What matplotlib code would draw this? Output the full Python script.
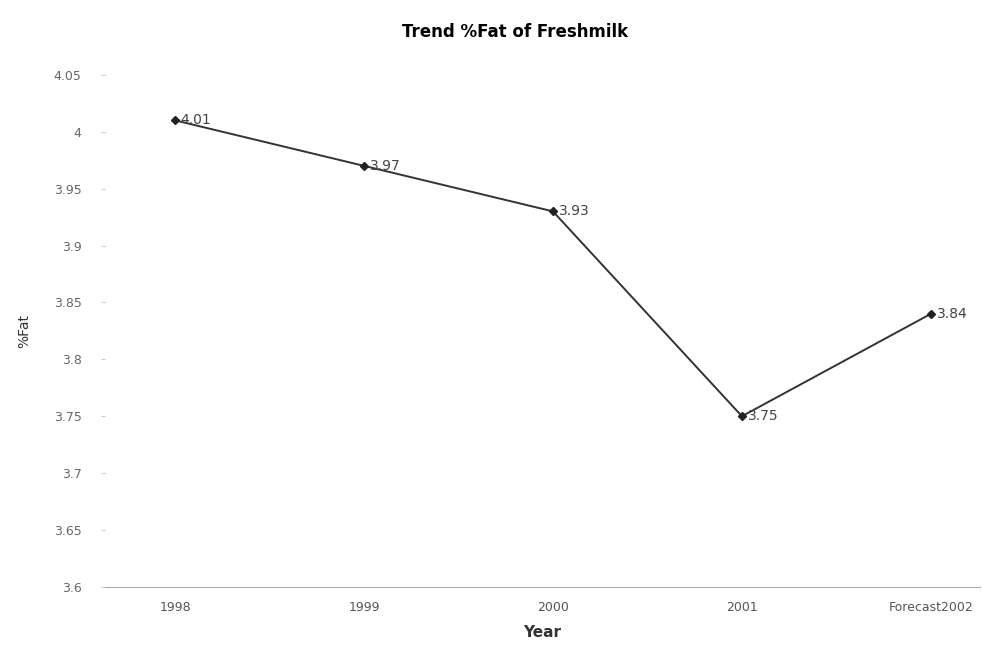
import matplotlib.pyplot as plt

years = ["1998", "1999", "2000", "2001", "Forecast2002"]
fat = [4.01, 3.97, 3.93, 3.75, 3.84]
yticks = [3.6, 3.65, 3.7, 3.75, 3.8, 3.85, 3.9, 3.95, 4.0, 4.05]
ytick_labels = ["3.6", "3.65", "3.7", "3.75", "3.8", "3.85", "3.9", "3.95", "4", "4.05"]

fig = plt.figure(figsize=(9.82, 6.45), dpi=100)
ax = fig.add_axes([0.107, 0.09, 0.891, 0.794])

x = range(len(years))
ax.plot(x, fat, color="#333333", lw=1.4, marker="D", ms=4.5,
        markerfacecolor="#222222", markeredgecolor="#222222")
for i, v in zip(x, fat):
    ax.text(i + 0.03, v, f"{v:.2f}", fontsize=10, color="#444444", va="center", ha="left")

ax.set_xlim(-0.37, 4.26)
ax.set_ylim(3.6, 4.05)
ax.set_xticks(list(x))
ax.set_xticklabels(years, fontsize=9, color="#555555")
ax.set_yticks(yticks)
ax.set_yticklabels(ytick_labels, fontsize=9, color="#666666")

for s in ["top", "right", "left"]:
    ax.spines[s].set_visible(False)
ax.spines["bottom"].set_color("#aaaaaa")
ax.tick_params(axis="y", length=3, color="#cccccc", pad=14)
ax.tick_params(axis="x", length=0, pad=10)

ax.set_xlabel("Year", fontsize=11, fontweight="bold", color="#333333", labelpad=8)
ax.set_ylabel("%Fat", fontsize=10, color="#333333", labelpad=16)
fig.suptitle("Trend %Fat of Freshmilk", fontsize=12, fontweight="bold", y=0.965, x=0.525)

fig.savefig("out.png", dpi=100)
